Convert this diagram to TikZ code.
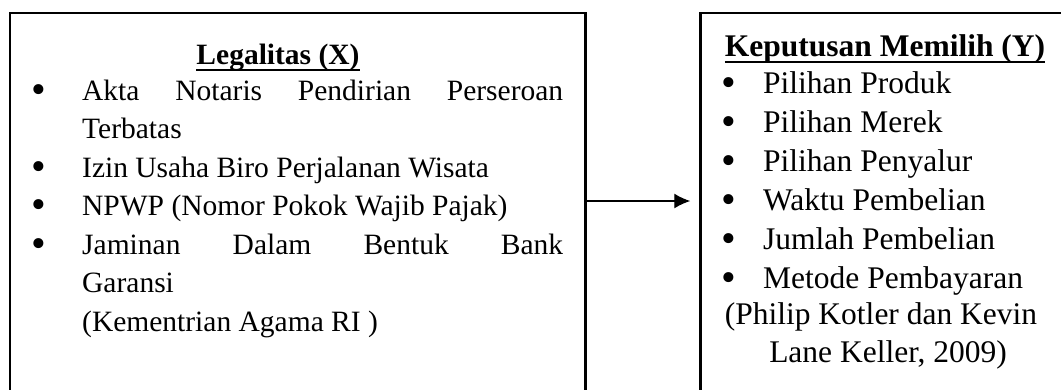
\documentclass[tikz,border=0pt]{standalone}
\usepackage{fontspec}
\setmainfont{Liberation Serif}
\usetikzlibrary{
		positioning,
		arrows.meta
	}
\tikzset{
		>=Latex
	}
\newsavebox{\headbox}
\newcommand{\headline}[1]{\sbox{\headbox}{#1}\rlap{\rule[-7pt]{\wd\headbox}{2.5pt}}\usebox{\headbox}}
\newcommand{\dotmark}{\raisebox{-3pt}{\fontsize{42}{42}\selectfont\textbullet}}
\newcommand{\bulL}{\llap{\makebox[86pt]{\dotmark}}}
\newcommand{\bulR}{\llap{\makebox[68pt]{\dotmark}}}

\begin{document}
\begin{tikzpicture}[x=1pt, y=-1pt,
		box/.style={draw, line width=2.5pt, inner sep=0pt},
		txtL/.style={anchor=base west, inner sep=0pt, font=\fontsize{29.5}{36}\selectfont},
		txtR/.style={anchor=base west, inner sep=0pt, font=\fontsize{31.5}{38}\selectfont},
		headL/.style={txtL, anchor=base, font=\fontsize{29.5}{36}\selectfont\bfseries},
		headR/.style={txtR, anchor=base, font=\fontsize{31.5}{38}\selectfont\bfseries},
		link/.style={->, line width=1.3pt, shorten >=9pt, >={Latex[length=16pt, width=15pt]}}
	]
		\useasboundingbox (0,0) rectangle (1061,389);
		% Boxes
		\node[box, minimum width=575.5pt, minimum height=387pt] (legal) at (297.75,206.5) {};
		\node[box, minimum width=379.5pt, minimum height=387pt] (decision) at (890.25,206.5) {};
		% Legalitas (X)
		\node[headL] (legalHead) at (278,64) {\headline{Legalitas (X)}};
		\node[txtL] (legal1) at (82,100) {\bulL\makebox[481pt][s]{Akta Notaris Pendirian Perseroan}};
		\node[txtL] (legal1b) at (82,138.5) {Terbatas};
		\node[txtL] (legal2) at (82,177) {\bulL Izin Usaha Biro Perjalanan Wisata};
		\node[txtL] (legal3) at (82,215.5) {\bulL NPWP (Nomor Pokok Wajib Pajak)};
		\node[txtL] (legal4) at (82,254) {\bulL\makebox[481pt][s]{Jaminan Dalam Bentuk Bank}};
		\node[txtL] (legal4b) at (82,292.5) {Garansi};
		\node[txtL] (legalSrc) at (82,331) {(Kementrian Agama RI )};
		% Keputusan Memilih (Y)
		\node[headR] (decisionHead) at (885,56) {\headline{Keputusan Memilih (Y)}};
		\node[txtR] (decision1) at (763,93) {\bulR Pilihan Produk};
		\node[txtR] (decision2) at (763,132) {\bulR Pilihan Merek};
		\node[txtR] (decision3) at (763,171) {\bulR Pilihan Penyalur};
		\node[txtR] (decision4) at (763,210) {\bulR Waktu Pembelian};
		\node[txtR] (decision5) at (763,249) {\bulR Jumlah Pembelian};
		\node[txtR] (decision6) at (763,288) {\bulR Metode Pembayaran};
		\node[txtR, anchor=base] (decisionSrc) at (881,324) {(Philip Kotler dan Kevin};
		\node[txtR, anchor=base] (decisionSrcb) at (888,362) {Lane Keller, 2009)};
		% Arrow
		\coordinate (mid) at (640,201);
		\draw[link] (legal.east |- mid) -- (decision.west |- mid);
	\end{tikzpicture}
\end{document}
